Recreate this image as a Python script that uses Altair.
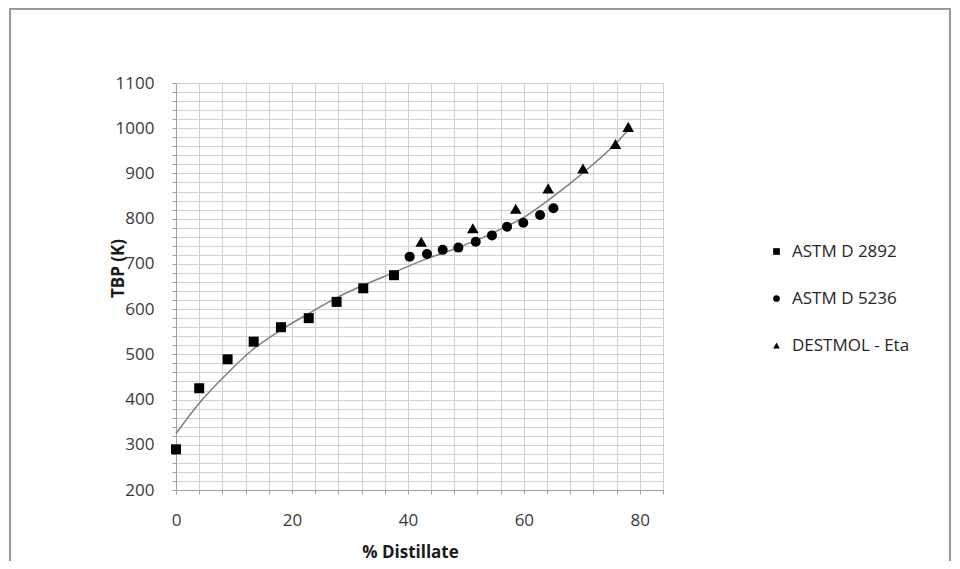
import altair as alt
import pandas as pd

# ---- data ----
series_names = ["ASTM D 2892", "ASTM D 5236", "DESTMOL - Eta"]

x_d2892 = [0, 4, 8.9, 13.4, 18.1, 22.9, 27.7, 32.3, 37.6]
y_d2892 = [290, 425, 489, 528, 560, 580, 616, 646, 675]

x_d5236 = [40.3, 43.3, 46.0, 48.7, 51.7, 54.5, 57.1, 59.9, 62.8, 65.1]
y_d5236 = [716, 722, 731, 736, 749, 763, 782, 791, 808, 823]

x_eta = [42.3, 51.2, 58.6, 64.2, 70.2, 75.8, 78.0]
y_eta = [749, 779, 822, 867, 911, 965, 1003]

trend_x = [0, 4, 9, 13, 18, 23, 28, 32, 37, 43, 48, 52, 56, 60, 64, 68, 72, 76, 78]
trend_y = [325, 392, 460, 508, 553, 591, 627, 651, 678, 710, 733, 753, 777, 803, 839, 878, 921, 968, 996]

x_ticks = list(range(0, 85, 4))
y_ticks = list(range(200, 1101, 20))

# ---- tables ----
pts_main = pd.DataFrame({
    "x": x_d2892 + x_d5236,
    "y": y_d2892 + y_d5236,
    "series": [series_names[0]] * len(x_d2892) + [series_names[1]] * len(x_d5236),
})
pts_eta = pd.DataFrame({"x": x_eta, "y": y_eta, "series": [series_names[2]] * len(x_eta)})
trend = pd.DataFrame({"x": trend_x, "y": trend_y})

FONT = "Open Sans"
GRID = "#d0d0d0"
AXISC = "#a0a0a0"

xscale = alt.Scale(domain=[0, 84], nice=False, zero=False)
yscale = alt.Scale(domain=[200, 1100], nice=False, zero=False)
shape_scale = alt.Scale(domain=series_names, range=["square", "circle", "triangle-up"])

xaxis = alt.Axis(
    values=x_ticks, tickCount=200, format="d",
    labelExpr="datum.value % 20 === 0 ? datum.label : ''",
    labelOverlap=False, labelFlush=False,
    title="% Distillate",
    titleFont=FONT, titleFontSize=17, titleFontWeight="bold", titleColor="#1a1a1a",
    titleX=234, titleY=67, titleAlign="center", titleBaseline="alphabetic",
    labelFont=FONT, labelFontSize=17, labelColor="#3a3a3a", labelPadding=18,
    grid=True, gridColor=GRID, gridWidth=1,
    domainColor=AXISC, tickColor=AXISC, tickSize=4,
)
yaxis = alt.Axis(
    values=y_ticks, tickCount=200, format="d",
    labelExpr="datum.value % 100 === 0 ? datum.label : ''",
    labelOverlap=False, labelFlush=False,
    title="TBP (K)",
    titleFont=FONT, titleFontSize=17, titleFontWeight="bold", titleColor="#1a1a1a",
    titleX=-58, titleY=185, titleAngle=270, titleAlign="center", titleBaseline="middle",
    labelFont=FONT, labelFontSize=17, labelColor="#3a3a3a", labelPadding=18,
    grid=True, gridColor=GRID, gridWidth=1,
    domainColor=AXISC, tickColor=AXISC, tickSize=4,
)

legend = alt.Legend(
    title=None, orient="none", legendX=592, legendY=160,
    symbolSize=45, symbolFillColor="black", symbolStrokeColor="black",
    labelFont=FONT, labelFontSize=17, labelColor="#262626",
    labelOffset=7, rowPadding=29,
)

border = alt.Chart(pd.DataFrame({"a": [0]})).mark_rect(
    fill="transparent", stroke="#9a9a9a", strokeWidth=2
).encode(
    x=alt.value(-166), x2=alt.value(774), y=alt.value(-74), y2=alt.value(600)
)

line = alt.Chart(trend).mark_line(
    color="#7f7f7f", strokeWidth=1.5, interpolate="monotone"
).encode(
    x=alt.X("x:Q", scale=xscale, axis=xaxis),
    y=alt.Y("y:Q", scale=yscale, axis=yaxis),
)

points_main = alt.Chart(pts_main).mark_point(
    filled=True, color="black", opacity=1, size=100
).encode(
    x=alt.X("x:Q", scale=xscale),
    y=alt.Y("y:Q", scale=yscale),
    shape=alt.Shape("series:N", scale=shape_scale, legend=legend),
)

points_eta = alt.Chart(pts_eta).mark_point(
    filled=True, color="black", opacity=1, size=135
).encode(
    x=alt.X("x:Q", scale=xscale),
    y=alt.Y("y:Q", scale=yscale),
    shape=alt.Shape("series:N", scale=shape_scale, legend=legend),
)

chart = alt.layer(border, line, points_main, points_eta).properties(
    width=487, height=407,
    autosize=alt.AutoSizeParams(type="none"),
    padding={"left": 168, "top": 75, "right": 289, "bottom": 71},
    background="white",
).configure_view(stroke=None)

chart.save("out.html", embed_options={"renderer": "svg", "actions": False})
